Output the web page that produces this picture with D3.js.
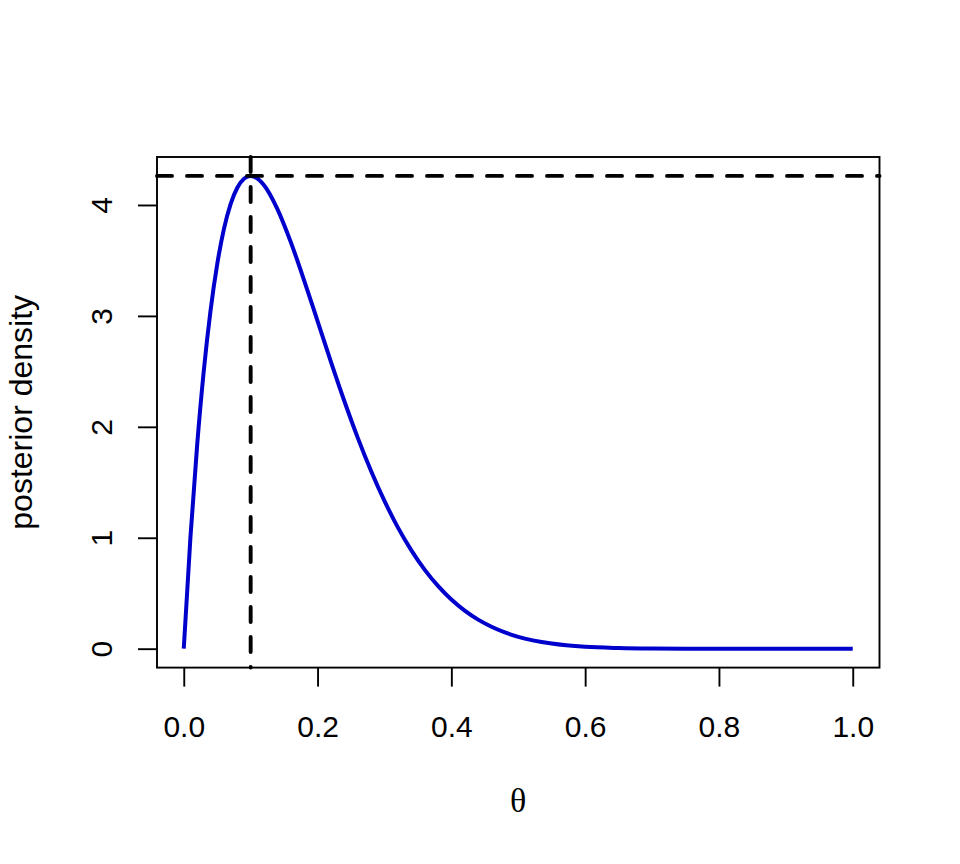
<!DOCTYPE html>
<html>
<head>
<meta charset="utf-8">
<title>posterior density</title>
<script src="https://d3js.org/d3.v7.min.js"></script>
<style>
  body { margin: 0; background: #fff; }
  svg text { font-family: "Liberation Sans", Arial, sans-serif; font-size: 30px; fill: #000; }
</style>
</head>
<body>
<div id="chart"></div>
<script>
// values
const theta = [0, 0.01, 0.02, 0.03, 0.04, 0.05, 0.06, 0.07, 0.08, 0.09, 0.10,
  0.12, 0.14, 0.16, 0.18, 0.20, 0.22, 0.24, 0.26, 0.28, 0.30, 0.32, 0.34, 0.36,
  0.38, 0.40, 0.42, 0.44, 0.46, 0.48, 0.50, 0.55, 0.60, 0.65, 0.70, 0.75, 0.80,
  0.85, 0.90, 0.95, 1.00];
const density = [0, 1.005, 1.834, 2.509, 3.047, 3.466, 3.782, 4.007, 4.155, 4.237, 4.262,
  4.178, 3.963, 3.665, 3.319, 2.953, 2.586, 2.233, 1.903, 1.602, 1.332, 1.094, 0.889, 0.713,
  0.566, 0.443, 0.343, 0.262, 0.198, 0.147, 0.107, 0.046, 0.017, 0.006, 0.0015, 0.0003, 0,
  0, 0, 0, 0];
const modeTheta = 0.1;
const modeDensity = 4.262;
const xTicks = [0, 0.2, 0.4, 0.6, 0.8, 1.0];
const yTicks = [0, 1, 2, 3, 4];

const W = 960, H = 864;
const plotL = 157, plotR = 879.5, plotT = 157, plotB = 667.6;

const svg = d3.select("#chart").append("svg")
  .attr("width", W).attr("height", H);

// R style: 4% padding on each side
const x = d3.scaleLinear().domain([-0.04, 1.04]).range([plotL, plotR]);
const yMax = d3.max(density);
const y = d3.scaleLinear().domain([-0.04 * yMax, 1.04 * yMax]).range([plotB, plotT]);

// x axis
const xAxis = svg.append("g")
  .attr("transform", `translate(0,${plotB})`)
  .call(d3.axisBottom(x).tickValues(xTicks).tickFormat(d3.format(".1f")).tickSize(19).tickPadding(0));
xAxis.select(".domain").remove();
xAxis.selectAll("line").attr("stroke", "#000").attr("stroke-width", 1.9);
xAxis.selectAll("text")
  .attr("y", 69).attr("dy", null)
  .attr("font-family", null).attr("font-size", null);

// y axis
const yAxis = svg.append("g")
  .attr("transform", `translate(${plotL},0)`)
  .call(d3.axisLeft(y).tickValues(yTicks).tickFormat(d3.format("d")).tickSize(19));
yAxis.select(".domain").remove();
yAxis.selectAll("line").attr("stroke", "#000").attr("stroke-width", 1.9);
yAxis.selectAll("text")
  .attr("x", null).attr("dy", null)
  .attr("font-family", null).attr("font-size", null)
  .attr("text-anchor", "middle")
  .attr("transform", `translate(${112 - plotL},0) rotate(-90)`);

// curve
const line = d3.line()
  .x((d, i) => x(theta[i]))
  .y(d => y(d))
  .curve(d3.curveMonotoneX);

svg.append("path")
  .datum(density)
  .attr("d", line)
  .attr("fill", "none")
  .attr("stroke", "#0000CD")
  .attr("stroke-width", 4);

// dashed reference lines
svg.append("line")
  .attr("x1", plotL).attr("x2", plotR)
  .attr("y1", y(modeDensity)).attr("y2", y(modeDensity))
  .attr("stroke", "#000").attr("stroke-width", 3.9)
  .attr("stroke-dasharray", "15 15").attr("stroke-linecap", "round");

svg.append("line")
  .attr("x1", x(modeTheta)).attr("x2", x(modeTheta))
  .attr("y1", plotT).attr("y2", plotB)
  .attr("stroke", "#000").attr("stroke-width", 3.9)
  .attr("stroke-dasharray", "15 15").attr("stroke-linecap", "round");

// plot box
svg.append("rect")
  .attr("x", plotL).attr("y", plotT)
  .attr("width", plotR - plotL).attr("height", plotB - plotT)
  .attr("fill", "none").attr("stroke", "#000").attr("stroke-width", 1.9);

// axis titles
svg.append("text")
  .attr("x", (plotL + plotR) / 2).attr("y", 812)
  .attr("text-anchor", "middle")
  .style("font-family", "'Liberation Serif', 'DejaVu Serif', serif")
  .style("font-size", "34px")
  .text("θ");

svg.append("text")
  .attr("transform", `translate(32,${(plotT + plotB) / 2}) rotate(-90)`)
  .attr("text-anchor", "middle")
  .style("font-size", "32px")
  .text("posterior density");
</script>
</body>
</html>
